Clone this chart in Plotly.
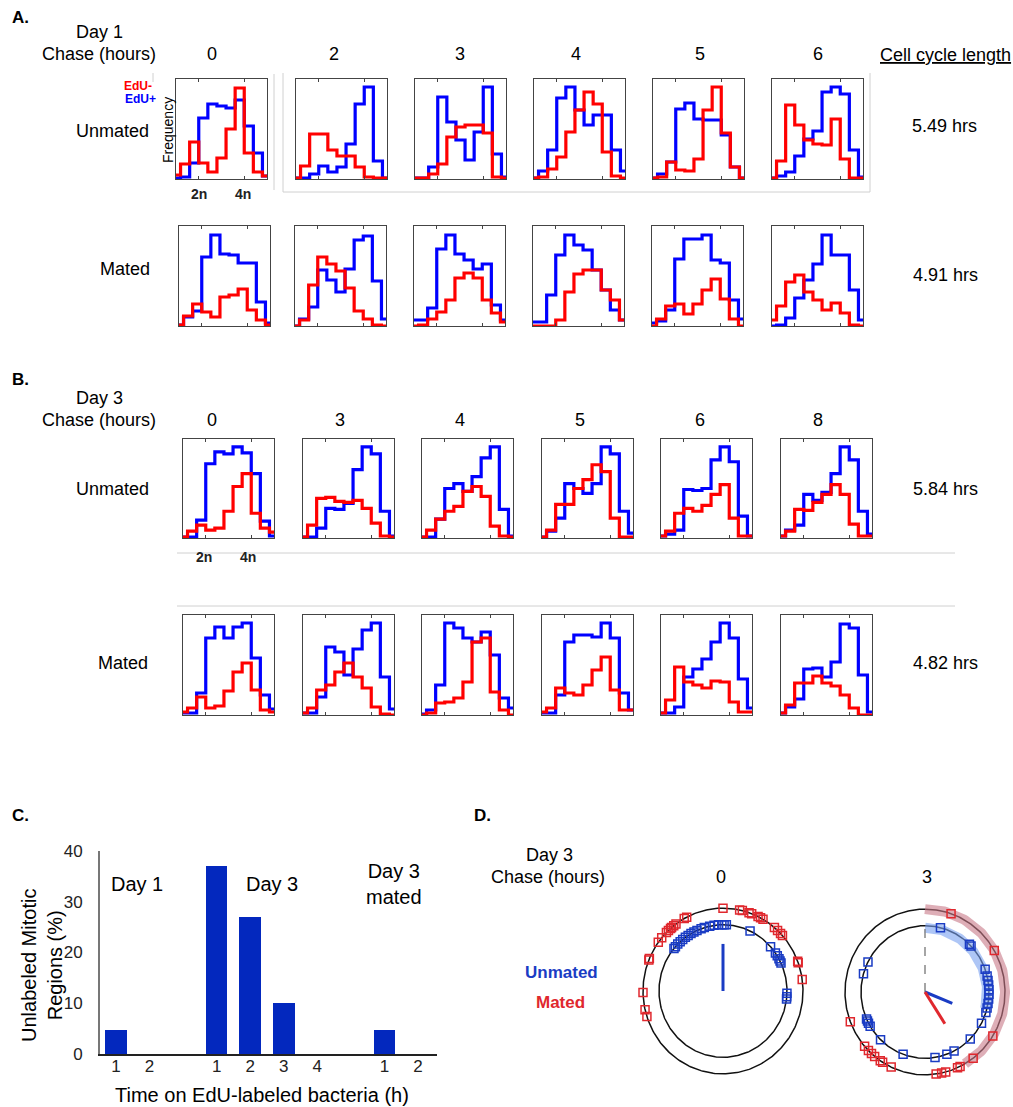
import numpy as np
import plotly.graph_objects as go

W, H = 1013, 1107
FONT = "Liberation Sans, Arial, Helvetica, sans-serif"
RED = "#ff0000"
BLUE = "#0000ff"

# ---------------- Panel A / B : DNA-content histograms (fraction of box height) ----------------
day1_chase = ["0", "2", "3", "4", "5", "6"]
day3_chase = ["0", "3", "4", "5", "6", "8"]
cycle_lengths = ["5.49 hrs", "4.91 hrs", "5.84 hrs", "4.82 hrs"]

A_unmated_red = [
    [0.04, 0.15, 0.37, 0.16, 0.07, 0.21, 0.50, 0.91, 0.26, 0.07, 0.03],
    [0.01, 0.13, 0.45, 0.45, 0.29, 0.23, 0.23, 0.12, 0.02, 0.01, 0.01],
    [0.01, 0.01, 0.05, 0.15, 0.42, 0.52, 0.54, 0.54, 0.46, 0.02, 0.01],
    [0.01, 0.02, 0.10, 0.22, 0.47, 0.69, 0.87, 0.75, 0.27, 0.03, 0.01],
    [0.01, 0.02, 0.17, 0.09, 0.08, 0.20, 0.69, 0.92, 0.46, 0.12, 0.01],
    [0.01, 0.18, 0.74, 0.54, 0.39, 0.35, 0.34, 0.60, 0.20, 0.01, 0.01],
]
A_unmated_blue = [
    [0.01, 0.02, 0.16, 0.61, 0.75, 0.73, 0.71, 0.79, 0.53, 0.26, 0.03],
    [0.01, 0.01, 0.05, 0.13, 0.07, 0.12, 0.35, 0.75, 0.92, 0.18, 0.01],
    [0.01, 0.01, 0.12, 0.82, 0.57, 0.39, 0.19, 0.47, 0.92, 0.25, 0.02],
    [0.01, 0.08, 0.29, 0.81, 0.92, 0.69, 0.54, 0.64, 0.64, 0.29, 0.08],
    [0.01, 0.05, 0.17, 0.70, 0.76, 0.60, 0.59, 0.59, 0.44, 0.12, 0.01],
    [0.01, 0.03, 0.07, 0.23, 0.40, 0.48, 0.87, 0.92, 0.85, 0.29, 0.02],
]
A_mated_red = [
    [0.01, 0.10, 0.22, 0.14, 0.09, 0.29, 0.31, 0.37, 0.16, 0.06, 0.01],
    [0.00, 0.06, 0.41, 0.69, 0.62, 0.55, 0.38, 0.15, 0.07, 0.01, 0.00],
    [0.00, 0.01, 0.07, 0.14, 0.26, 0.48, 0.53, 0.48, 0.26, 0.13, 0.04],
    [0.00, 0.00, 0.00, 0.06, 0.34, 0.52, 0.56, 0.56, 0.36, 0.26, 0.06],
    [0.00, 0.07, 0.20, 0.22, 0.12, 0.22, 0.36, 0.47, 0.27, 0.07, 0.00],
    [0.06, 0.20, 0.44, 0.51, 0.34, 0.26, 0.16, 0.23, 0.13, 0.01, 0.00],
]
A_mated_blue = [
    [0.01, 0.09, 0.15, 0.69, 0.91, 0.72, 0.71, 0.63, 0.63, 0.24, 0.03],
    [0.00, 0.07, 0.19, 0.56, 0.46, 0.34, 0.57, 0.86, 0.90, 0.45, 0.07],
    [0.06, 0.06, 0.18, 0.77, 0.91, 0.72, 0.66, 0.57, 0.62, 0.21, 0.06],
    [0.04, 0.04, 0.31, 0.71, 0.91, 0.81, 0.76, 0.56, 0.36, 0.16, 0.06],
    [0.03, 0.05, 0.16, 0.67, 0.87, 0.87, 0.91, 0.66, 0.63, 0.26, 0.07],
    [0.00, 0.01, 0.08, 0.28, 0.46, 0.62, 0.91, 0.71, 0.71, 0.36, 0.06],
]
B_unmated_red = [
    [0.01, 0.07, 0.13, 0.08, 0.10, 0.27, 0.52, 0.65, 0.25, 0.10, 0.06],
    [0.01, 0.13, 0.40, 0.41, 0.37, 0.36, 0.38, 0.30, 0.15, 0.02, 0.01],
    [0.01, 0.08, 0.19, 0.27, 0.32, 0.47, 0.52, 0.42, 0.12, 0.02, 0.01],
    [0.01, 0.08, 0.34, 0.34, 0.50, 0.59, 0.74, 0.67, 0.20, 0.01, 0.01],
    [0.02, 0.07, 0.25, 0.30, 0.27, 0.33, 0.44, 0.54, 0.20, 0.02, 0.02],
    [0.02, 0.07, 0.29, 0.28, 0.36, 0.44, 0.54, 0.44, 0.14, 0.02, 0.02],
]
B_unmated_blue = [
    [0.01, 0.01, 0.18, 0.75, 0.87, 0.85, 0.92, 0.86, 0.65, 0.17, 0.02],
    [0.01, 0.01, 0.10, 0.30, 0.29, 0.35, 0.69, 0.92, 0.85, 0.27, 0.02],
    [0.01, 0.01, 0.19, 0.50, 0.55, 0.47, 0.62, 0.81, 0.92, 0.29, 0.02],
    [0.01, 0.07, 0.20, 0.55, 0.50, 0.45, 0.55, 0.92, 0.85, 0.27, 0.05],
    [0.02, 0.04, 0.08, 0.49, 0.48, 0.50, 0.79, 0.92, 0.77, 0.22, 0.02],
    [0.02, 0.08, 0.13, 0.44, 0.38, 0.46, 0.65, 0.92, 0.79, 0.27, 0.04],
]
B_mated_red = [
    [0.03, 0.07, 0.18, 0.07, 0.09, 0.24, 0.43, 0.52, 0.25, 0.05, 0.03],
    [0.02, 0.07, 0.25, 0.30, 0.43, 0.52, 0.38, 0.27, 0.08, 0.01, 0.00],
    [0.00, 0.02, 0.12, 0.13, 0.17, 0.33, 0.73, 0.77, 0.23, 0.05, 0.00],
    [0.03, 0.07, 0.27, 0.22, 0.20, 0.30, 0.45, 0.58, 0.25, 0.05, 0.05],
    [0.02, 0.15, 0.48, 0.33, 0.30, 0.27, 0.34, 0.33, 0.13, 0.03, 0.03],
    [0.02, 0.10, 0.32, 0.32, 0.39, 0.32, 0.29, 0.20, 0.07, 0.00, 0.00],
]
B_mated_blue = [
    [0.02, 0.02, 0.22, 0.77, 0.88, 0.77, 0.88, 0.92, 0.57, 0.20, 0.06],
    [0.02, 0.02, 0.18, 0.68, 0.63, 0.40, 0.66, 0.85, 0.92, 0.38, 0.06],
    [0.01, 0.05, 0.30, 0.92, 0.87, 0.77, 0.73, 0.83, 0.60, 0.17, 0.07],
    [0.02, 0.02, 0.20, 0.73, 0.80, 0.80, 0.78, 0.92, 0.77, 0.22, 0.05],
    [0.02, 0.02, 0.08, 0.38, 0.46, 0.56, 0.73, 0.92, 0.77, 0.36, 0.07],
    [0.02, 0.08, 0.16, 0.46, 0.47, 0.38, 0.53, 0.91, 0.87, 0.40, 0.03],
]

# ---------------- Panel C ----------------
c_groups = ["Day 1", "Day 3", "Day 3<br>mated"]
c_hours = [[1, 2], [1, 2, 3, 4], [1, 2]]
c_values = [[4.8, 0], [37, 27, 10, 0], [4.8, 0]]
c_yticks = [0, 10, 20, 30, 40]

# ---------------- Panel D (angles in degrees, clockwise from top) ----------------
d_chase = ["0", "3"]
d_unmated = [
    [-50, -48, -45, -42, -39, -36, -33, -30, -27, -24, -20, -17, -12, -8, -4, -1, 1, 3,
     25, 48, 55, 58, 61, 63, 65, 92, 95, 97],
    [14, 44, 46, 70, 76, 80, 84, 88, 92, 96, 100, 104, 108, 118, 135, 153, 160, 171,
     -160, -136, -121, -118, -116, -114, -74, -63],
]
d_mated = [
    [0, 12, 14, 19, 21, 26, 28, 30, 40, 43, 46, 48, 69, 70, 82,
     -27, -29, -36, -38, -40, -41, -43, -45, -50, -54, -67, -68, -91, -103, -108],
    [19, 60, 122, 143, 154, 156, 165, 168, 172,
     -155, -148, -146, -141, -138, -135, -131, -111],
]
# mean vectors (angle, length relative to the inner circle); None = not drawn
d_unmated_mean = [(0, 0.71), (112, 0.46)]
d_mated_mean = [None, (147, 0.57)]
# shaded arcs (start, end angle) for the 3 h chase
d_unmated_arc = [None, (0, 105)]
d_mated_arc = [None, (0, 150)]
R_UNMATED, R_MATED = 1.0, 1.25

# ======================================================================================
def px(x):
    return x / W


def py(y):
    return 1 - y / H


def axn(i):
    return "" if i == 1 else str(i)


fig = go.Figure()
layout = {}
annotations = []
shapes = []


def ann(text, x, y, size=18, color="#000", xanchor="center", angle=0, bold=False):
    if bold:
        text = "<b>" + text + "</b>"
    annotations.append(dict(text=text, x=px(x), y=py(y), xref="paper", yref="paper",
                            showarrow=False, xanchor=xanchor, yanchor="middle",
                            textangle=angle, font=dict(family=FONT, size=size, color=color)))


def gline(x0, y0, x1, y1, color="#d0d0d0", width=1):
    shapes.append(dict(type="line", xref="paper", yref="paper", x0=px(x0), y0=py(y0),
                       x1=px(x1), y1=py(y1), line=dict(color=color, width=width)))


hist_rows = [
    (A_unmated_red, A_unmated_blue, [176, 296, 415, 534, 653, 772], 79, 179),
    (A_mated_red, A_mated_blue, [179, 295, 414, 533, 652, 772], 226, 326),
    (B_unmated_red, B_unmated_blue, [183, 303, 422, 542, 661, 781], 439, 538),
    (B_mated_red, B_mated_blue, [183, 303, 422, 542, 661, 781], 615, 715),
]
BOX_W = 91
ax = 0
for reds, blues, xs, y0, y1 in hist_rows:
    for r, b, x0 in zip(reds, blues, xs):
        ax += 1
        n = axn(ax)
        layout["xaxis" + n] = dict(domain=[px(x0), px(x0 + BOX_W)], range=[0, 1], anchor="y" + n,
                                   showline=True, mirror="ticks", linecolor="#444", linewidth=1.2,
                                   ticks="inside", ticklen=3, tickcolor="#444", tickwidth=1,
                                   tickvals=[0.25, 0.75], showticklabels=False, automargin=False,
                                   showgrid=False, zeroline=False, fixedrange=True)
        layout["yaxis" + n] = dict(domain=[py(y1), py(y0)], range=[0, 1], anchor="x" + n,
                                   showline=True, mirror=True, linecolor="#444", linewidth=1.2,
                                   ticks="", showticklabels=False, showgrid=False, automargin=False,
                                   zeroline=False, fixedrange=True)
        for vals, col in ((b, BLUE), (r, RED)):
            fig.add_trace(go.Scatter(x=np.linspace(0, 1, len(vals)), y=vals, mode="lines",
                                     line=dict(color=col, width=3.2, shape="hvh"),
                                     xaxis="x" + n, yaxis="y" + n, showlegend=False,
                                     hoverinfo="skip"))

# ---------------- Panel C bar chart ----------------
ax += 1
nC = axn(ax)
c_pos, c_text, c_vals = [], [], []
p = 0
for hrs, vs in zip(c_hours, c_values):
    for h, v in zip(hrs, vs):
        c_pos.append(p)
        c_text.append(str(h))
        c_vals.append(v)
        p += 1
    p += 1
unit = (418 - 116) / 9.0
layout["xaxis" + nC] = dict(domain=[px(100), px(437)], anchor="y" + nC,
                            range=[-(116 - 100) / unit, 9 + (437 - 418) / unit],
                            tickvals=c_pos, ticktext=c_text, ticks="", showgrid=False,
                            zeroline=False, showline=True, linecolor="#222", linewidth=1.5,
                            automargin=False, ticklabelstandoff=-4,
                            tickfont=dict(family=FONT, size=17, color="#222"))
layout["yaxis" + nC] = dict(domain=[py(1054), py(851)], anchor="x" + nC, range=[0, 40],
                            tickvals=c_yticks, ticks="", showgrid=False, zeroline=False,
                            showline=True, linecolor="#777", linewidth=2,
                            ticklabelstandoff=12, automargin=False,
                            tickfont=dict(family=FONT, size=17, color="#222"))
fig.add_trace(go.Bar(x=c_pos, y=c_vals, width=0.64, marker=dict(color="#0328be", line=dict(width=0)),
                     xaxis="x" + nC, yaxis="y" + nC, showlegend=False, hoverinfo="skip"))

# ---------------- Panel D circular plots ----------------
SX, SY = 64.0, 66.3
d_centers = [(723, 991), (925, 992)]
d_boxes = [(635, 820), (835, 1013)]
D_BLUE = "#1a3cc4"
D_RED = "#e0282e"
theta_full = np.radians(np.linspace(0, 360, 361))
for k in range(2):
    ax += 1
    n = axn(ax)
    cx, cy = d_centers[k]
    bx0, bx1 = d_boxes[k]
    by0, by1 = 893, 1092
    layout["xaxis" + n] = dict(domain=[px(bx0), px(bx1)], anchor="y" + n, automargin=False,
                               range=[(bx0 - cx) / SX, (bx1 - cx) / SX], visible=False)
    layout["yaxis" + n] = dict(domain=[py(by1), py(by0)], anchor="x" + n, automargin=False,
                               range=[(cy - by1) / SY, (cy - by0) / SY], visible=False)
    for R in (R_UNMATED, R_MATED):
        fig.add_trace(go.Scatter(x=R * np.sin(theta_full), y=R * np.cos(theta_full), mode="lines",
                                 line=dict(color="#111", width=1.5), xaxis="x" + n, yaxis="y" + n,
                                 showlegend=False, hoverinfo="skip"))
    for arc, R, col in ((d_mated_arc[k], R_MATED, "rgba(200,120,135,0.6)"),
                        (d_unmated_arc[k], R_UNMATED * 0.97, "rgba(120,160,240,0.6)")):
        if arc is None:
            continue
        t = np.radians(np.linspace(arc[0], arc[1], 120))
        fig.add_trace(go.Scatter(x=R * np.sin(t), y=R * np.cos(t), mode="lines",
                                 line=dict(color=col, width=10), xaxis="x" + n, yaxis="y" + n,
                                 showlegend=False, hoverinfo="skip"))
    if d_unmated_arc[k] is not None:
        fig.add_trace(go.Scatter(x=[0, 0], y=[0, R_UNMATED], mode="lines",
                                 line=dict(color="#888", width=1.5, dash="dash"),
                                 xaxis="x" + n, yaxis="y" + n, showlegend=False, hoverinfo="skip"))
    for mv, col in ((d_unmated_mean[k], D_BLUE), (d_mated_mean[k], D_RED)):
        if mv is None:
            continue
        t = np.radians(mv[0])
        fig.add_trace(go.Scatter(x=[0, mv[1] * np.sin(t)], y=[0, mv[1] * np.cos(t)], mode="lines",
                                 line=dict(color=col, width=3), xaxis="x" + n, yaxis="y" + n,
                                 showlegend=False, hoverinfo="skip"))
    for angs, R, col in ((d_mated[k], R_MATED, D_RED), (d_unmated[k], R_UNMATED, D_BLUE)):
        t = np.radians(np.array(angs, dtype=float))
        fig.add_trace(go.Scatter(x=R * np.sin(t), y=R * np.cos(t), mode="markers",
                                 marker=dict(symbol="square-open", size=8, color=col,
                                             line=dict(color=col, width=1.5)),
                                 xaxis="x" + n, yaxis="y" + n, showlegend=False, hoverinfo="skip"))

# ---------------- Text ----------------
ann("A.", 10, 17, size=17, xanchor="left", bold=True)
ann("Day 1", 99, 32)
ann("Chase (hours)", 99, 54)
for t, x in zip(day1_chase, [212, 334, 460, 576, 700, 818]):
    ann(t, x, 54)
ann("<u>Cell cycle length</u>", 945, 55)
ann("Unmated", 112, 131)
ann("Mated", 125, 269)
ann(cycle_lengths[0], 944, 126)
ann(cycle_lengths[1], 945, 275)
ann("EdU-", 138, 86, size=12, color=RED, bold=True)
ann("EdU+", 140, 99, size=12, color=BLUE, bold=True)
ann("Frequency", 168, 130, size=14, angle=-90)
ann("2n", 199, 194, size=14, color="#222", bold=True)
ann("4n", 243, 194, size=14, color="#222", bold=True)

ann("B.", 10, 380, size=17, xanchor="left", bold=True)
ann("Day 3", 99, 398)
ann("Chase (hours)", 99, 420)
for t, x in zip(day3_chase, [212, 340, 460, 580, 700, 818]):
    ann(t, x, 420)
ann("Unmated", 112, 489)
ann("Mated", 123, 663)
ann(cycle_lengths[2], 945, 489)
ann(cycle_lengths[3], 945, 663)
ann("2n", 204, 557, size=14, color="#222", bold=True)
ann("4n", 248, 557, size=14, color="#222", bold=True)

ann("C.", 10, 815, size=17, xanchor="left", bold=True)
ann(c_groups[0], 137, 884, size=20)
ann(c_groups[1], 272, 884, size=20)
ann(c_groups[2], 394, 884, size=20)
ann("Unlabeled Mitotic<br>Regions (%)", 42, 966, size=20, angle=-90)
ann("Time on EdU-labeled bacteria (h)", 262, 1095, size=20)

ann("D.", 472, 815, size=17, xanchor="left", bold=True)
ann("Day 3", 549, 855)
ann("Chase (hours)", 548, 877)
ann(d_chase[0], 721, 877)
ann(d_chase[1], 927, 877)
ann("Unmated", 561, 972, size=17, color=D_BLUE, bold=True)
ann("Mated", 560, 1002, size=17, color=D_RED, bold=True)

# light gray frames / separators
gline(153, 73, 153, 82)
gline(274, 74, 274, 190)
gline(283, 73, 283, 192)
gline(283, 192, 870, 192)
gline(870, 73, 870, 192)
gline(177, 553, 955, 553)
gline(177, 606, 955, 606)

fig.update_layout(template="none", width=W, height=H,
                  margin=dict(l=0, r=0, t=0, b=0, pad=0, autoexpand=False),
                  paper_bgcolor="white", plot_bgcolor="rgba(0,0,0,0)",
                  annotations=annotations, shapes=shapes, showlegend=False,
                  font=dict(family=FONT, color="#000"), bargap=0, **layout)
fig.write_html("out.html")
